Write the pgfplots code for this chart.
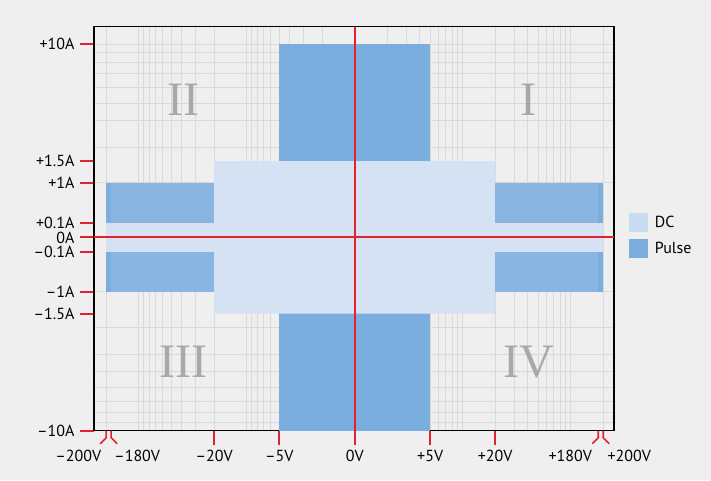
\documentclass[border=0pt]{standalone}
\usepackage{fontspec}
\setmainfont{PT Sans}
\newfontfamily\romanfont{Liberation Serif}
\usepackage{pgfplots}
\pgfplotsset{compat=1.18}
\definecolor{bgc}{HTML}{EFEFEF}
\definecolor{gridc}{HTML}{D9D9D9}
\definecolor{dcfill}{HTML}{D5E2F3}
\definecolor{dclegend}{HTML}{C9DBF0}
\definecolor{pulsefill}{HTML}{7BAEDE}
\definecolor{pulseside}{HTML}{88B5E1}
\definecolor{axred}{HTML}{E5202E}
\definecolor{numgray}{HTML}{A8A8A8}

\begin{document}
\fontsize{16}{18}\selectfont
\begin{tikzpicture}
\useasboundingbox (0,0) rectangle (711pt,480pt);
\fill[bgc] (0,0) rectangle (711pt,480pt);
\begin{axis}[
  at={(94pt,49.3pt)}, anchor=south west,
  scale only axis, width=520pt, height=404pt,
  % log scale in volts (1V sits on the centre line)
  x coord trafo/.code={\pgfmathparse{((#1)/max(abs(#1),0.001))*46.903*ln(max(abs(#1),1))}},
  % piecewise scale in amps
  y coord trafo/.code={\pgfmathparse{((#1)/max(abs(#1),0.001))*(146*min(abs(#1),0.1)+44.33*max(min(abs(#1),1)-0.1,0)+43.6*max(min(abs(#1),1.5)-1,0)+13.76*max(abs(#1)-1.5,0))}},
  xmin=-259.4, xmax=251.8, ymin=-10, ymax=11.27,
  xtick={-20,-5,0,5,20},
  xticklabels={\textendash20V,\textendash5V,0V,+5V,+20V},
  ytick={-10,-1.5,-1,-0.1,0,0.1,1,1.5,10},
  yticklabels={\textendash10A,\textendash1.5A,\textendash1A,\textendash0.1A,0A,+0.1A,+1A,+1.5A,+10A},
  minor xtick={-200,-100,-90,-80,-70,-60,-50,-40,-30,-20,-10,-9,-8,-7,-6,-5,-4,-3,-2,
               2,3,4,5,6,7,8,9,10,20,30,40,50,60,70,80,90,100,200},
  minor ytick={-10,-9.42,-8.7,-7.86,-6.83,-5.7,-4.46,-2.52,-1,
               1,2.52,4.46,5.7,6.83,7.86,8.7,9.42,10},
  xminorgrids, yminorgrids,
  minor grid style={gridc, line width=1pt},
  minor tick length=0pt,
  major tick length=14pt, tick align=outside, tick pos=left,
  major tick style={axred, line width=2pt},
  axis line style={black, line width=1.2pt},
  tick label style={font=\fontsize{16}{18}\selectfont},
  clip=false,
  legend style={draw=none, fill=none, at={(1.0275,0.482)}, anchor=west,
    inner sep=0pt, row sep=7pt, font=\fontsize{16}{18}\selectfont,
    /tikz/every odd column/.append style={column sep=5pt}},
  legend cell align=left,
  legend image code/.code={\fill[#1] (0pt,-9.5pt) rectangle (19.4pt,9.5pt);},
]

% Pulse, centre
\addplot[fill=pulsefill, draw=none, forget plot] coordinates {(-5,-10) (5,-10) (5,10) (-5,10)} -- cycle;

% DC
\addplot[fill=dcfill, draw=none, forget plot] coordinates {
  (-200,-0.1) (-20,-0.1) (-20,-1.5) (20,-1.5) (20,-0.1) (200,-0.1)
  (200,0.1) (20,0.1) (20,1.5) (-20,1.5) (-20,0.1) (-200,0.1)} -- cycle;

% Pulse, sides
\addplot[fill=pulsefill, draw=none, forget plot] coordinates {(-200,0.1) (-20,0.1) (-20,1) (-200,1)} -- cycle;
\addplot[fill=pulsefill, draw=none, forget plot] coordinates {(-200,-1) (-20,-1) (-20,-0.1) (-200,-0.1)} -- cycle;
\addplot[fill=pulsefill, draw=none, forget plot] coordinates {(20,0.1) (200,0.1) (200,1) (20,1)} -- cycle;
\addplot[fill=pulsefill, draw=none, forget plot] coordinates {(20,-1) (200,-1) (200,-0.1) (20,-0.1)} -- cycle;
\addplot[fill=pulseside, draw=none, forget plot] coordinates {(-180,0.1) (-20,0.1) (-20,1) (-180,1)} -- cycle;
\addplot[fill=pulseside, draw=none, forget plot] coordinates {(-180,-1) (-20,-1) (-20,-0.1) (-180,-0.1)} -- cycle;
\addplot[fill=pulseside, draw=none, forget plot] coordinates {(20,0.1) (180,0.1) (180,1) (20,1)} -- cycle;
\addplot[fill=pulseside, draw=none, forget plot] coordinates {(20,-1) (180,-1) (180,-0.1) (20,-0.1)} -- cycle;

% zero lines
\addplot[axred, line width=2pt, forget plot] coordinates {(0,-10) (0,11.27)};
\addplot[axred, line width=2pt, forget plot] coordinates {(-259.4,0) (251.8,0)};

\addlegendimage{fill=dclegend, draw=none}
\addlegendentry{DC}
\addlegendimage{fill=pulsefill, draw=none}
\addlegendentry{Pulse}

% broken ticks at the ends of the voltage axis
\draw[axred, line width=1.6pt] (axis cs:-200,-10) -- ++(0pt,-7pt) -- ++(-6pt,-6pt);
\draw[axred, line width=1.6pt] (axis cs:-180,-10) -- ++(0pt,-7pt) -- ++(6pt,-6pt);
\draw[axred, line width=1.6pt] (axis cs:180,-10) -- ++(0pt,-7pt) -- ++(-6pt,-6pt);
\draw[axred, line width=1.6pt] (axis cs:200,-10) -- ++(0pt,-7pt) -- ++(6pt,-6pt);
\node[anchor=north] at ([xshift=-28pt,yshift=-14pt]axis cs:-200,-10) {\textendash200V};
\node[anchor=north] at ([xshift=26pt,yshift=-14pt]axis cs:-180,-10) {\textendash180V};
\node[anchor=north] at ([xshift=-28pt,yshift=-14pt]axis cs:180,-10) {+180V};
\node[anchor=north] at ([xshift=26pt,yshift=-14pt]axis cs:200,-10) {+200V};

% quadrant numbers
\node[numgray, font=\romanfont\fontsize{48}{48}\selectfont] at (rel axis cs:0.8365,0.818) {I};
\node[numgray, font=\romanfont\fontsize{48}{48}\selectfont] at (rel axis cs:0.173,0.818) {II};
\node[numgray, font=\romanfont\fontsize{48}{48}\selectfont] at (rel axis cs:0.173,0.170) {III};
\node[numgray, font=\romanfont\fontsize{48}{48}\selectfont] at (rel axis cs:0.8365,0.170) {IV};

\end{axis}
\end{tikzpicture}
\end{document}
